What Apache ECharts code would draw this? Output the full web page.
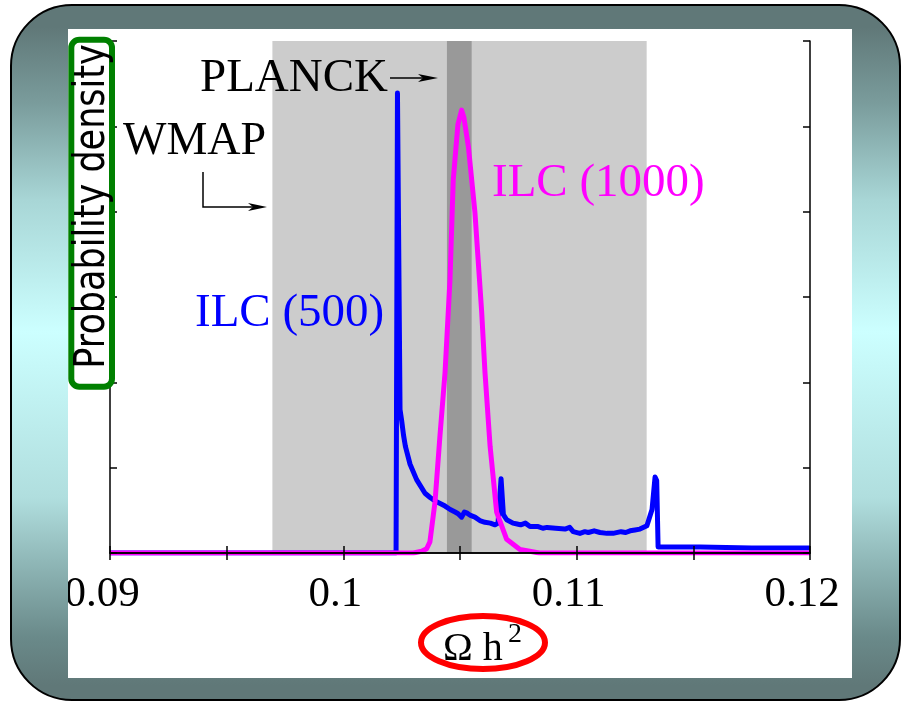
<!DOCTYPE html>
<html>
<head>
<meta charset="utf-8">
<script src="https://cdn.jsdelivr.net/npm/echarts@6/dist/echarts.min.js"></script>
<style>
  body { margin: 0; background: #fff; }
  #frame {
    position: absolute; left: 10px; top: 4px; width: 891px; height: 697px;
    box-sizing: border-box; border: 2px solid #000; border-radius: 62px;
    background: linear-gradient(to bottom, #607878 3%, #7a9c9c 14%, #a8d6d6 28%, #ccffff 47%, #b0dede 71%, #90b8b8 80%, #6a8a8a 91%, #607878 98%);
  }
  #main { position: absolute; left: 68px; top: 29px; width: 784px; height: 649px; background: #fff; }
</style>
</head>
<body>
<div id="frame"></div>
<div id="main"></div>
<script>
// x 轴范围和刻度
var xMin = 0.09;
var xMax = 0.12;
var xStep = 0.005;

// 阴影带 (WMAP / PLANCK)
var wmapBand = [0.09696, 0.1130];
var planckBand = [0.10444, 0.10550];

// ILC (500) 曲线
var ilc500X = [0.09, 0.10226, 0.10232, 0.10236, 0.10243, 0.10250, 0.10258, 0.10266, 0.10286, 0.10314,
  0.10350, 0.10372, 0.10393, 0.10415, 0.10436, 0.10458, 0.10479, 0.10492, 0.10507, 0.10519,
  0.10529, 0.10545, 0.10564, 0.10585, 0.10607, 0.10630, 0.10650, 0.10663, 0.10676, 0.10686,
  0.10700, 0.10727, 0.10745, 0.10760, 0.10780, 0.10800, 0.10835, 0.10855, 0.10873, 0.10910,
  0.10950, 0.10970, 0.10985, 0.11014, 0.11035, 0.11050, 0.11075, 0.11100, 0.11130, 0.11156,
  0.11190, 0.11210, 0.11229, 0.11250, 0.11271, 0.11301, 0.11323, 0.11336, 0.11343, 0.11349,
  0.11529, 0.1175, 0.12];
var ilc500Y = [0, 0, 5.39, 5.39, 1.68, 1.55, 1.38, 1.25, 1.04, 0.86,
  0.70, 0.65, 0.61, 0.58, 0.55, 0.51, 0.48, 0.46, 0.42, 0.48,
  0.47, 0.44, 0.42, 0.38, 0.36, 0.35, 0.33, 0.35, 0.87, 0.45,
  0.39, 0.35, 0.34, 0.33, 0.35, 0.31, 0.31, 0.29, 0.30, 0.29,
  0.28, 0.30, 0.25, 0.23, 0.25, 0.24, 0.26, 0.24, 0.23, 0.23,
  0.25, 0.24, 0.26, 0.27, 0.28, 0.32, 0.51, 0.89, 0.85, 0.07,
  0.07, 0.06, 0.06];

// ILC (1000) 曲线
var ilc1000X = [0.09, 0.1030, 0.10336, 0.10357, 0.10371, 0.10393, 0.10414, 0.10436, 0.10457, 0.10471,
  0.10491, 0.10507, 0.10517, 0.10536, 0.10564, 0.10593, 0.10607, 0.10629, 0.10657, 0.10700,
  0.10757, 0.1084, 0.12];
var ilc1000Y = [0, 0, 0.02, 0.05, 0.13, 0.60, 1.37, 2.12, 3.20, 4.37,
  5.02, 5.19, 5.10, 4.76, 3.99, 2.82, 2.12, 1.25, 0.48, 0.16,
  0.04, 0, 0];

var serif = '"Liberation Serif", "Times New Roman", serif';

function pairs (xs, ys) {
  var out = [];
  for (var i = 0; i < xs.length; i++) out.push([xs[i], ys[i]]);
  return out;
}

function tickLabel (v) {
  var k = Math.round(v * 1000);
  return k % 10 === 0 ? String(k / 1000) : '';
}

function axis (extra) {
  return Object.assign({
    type: 'value',
    z: 5,
    axisLine: { show: true, lineStyle: { color: '#000', width: 1.5 } },
    axisTick: { show: true, inside: true, length: 7, lineStyle: { color: '#000', width: 1.5 } },
    splitLine: { show: false },
    axisLabel: { show: false }
  }, extra);
}

var myChart = echarts.init(document.getElementById('main'));
var option = {
  animation: false,
  grid: { left: 42, right: 42, top: 12, bottom: 125, containLabel: false, outerBoundsMode: 'none' },
  xAxis: [
    axis({
      position: 'bottom', min: xMin, max: xMax, interval: xStep,
      axisLabel: { show: true, margin: 20, color: '#000', fontFamily: serif, fontSize: 43, padding: [0, 16, 0, 0], formatter: tickLabel }
    }),
    axis({ position: 'top', min: xMin, max: xMax, interval: xStep })
  ],
  yAxis: [
    axis({ position: 'left', min: 0, max: 6, interval: 1 }),
    axis({ position: 'right', min: 0, max: 6, interval: 1 })
  ],
  series: [
    {
      name: 'bands', type: 'line', data: [], z: 1, silent: true,
      markArea: {
        silent: true,
        data: [
          [{ xAxis: wmapBand[0], itemStyle: { color: '#cccccc' } }, { xAxis: wmapBand[1] }],
          [{ xAxis: planckBand[0], itemStyle: { color: '#999999' } }, { xAxis: planckBand[1] }]
        ]
      }
    },
    {
      name: 'ILC (500)', type: 'line', z: 3, showSymbol: false,
      lineStyle: { color: '#0000ff', width: 5, join: 'round' }, itemStyle: { color: '#0000ff' },
      data: pairs(ilc500X, ilc500Y)
    },
    {
      name: 'ILC (1000)', type: 'line', z: 4, showSymbol: false,
      lineStyle: { color: '#ff00ff', width: 5, join: 'round' }, itemStyle: { color: '#ff00ff' },
      data: pairs(ilc1000X, ilc1000Y)
    }
  ],
  graphic: [
    // 文字标注
    { type: 'text', x: 132, y: 49.5, z: 10, style: { text: 'PLANCK', font: '47px ' + serif, fill: '#000', textAlign: 'left', textVerticalAlign: 'middle' } },
    { type: 'text', x: 55, y: 112.5, z: 10, style: { text: 'WMAP', font: '46px ' + serif, fill: '#000', textAlign: 'left', textVerticalAlign: 'middle' } },
    { type: 'text', x: 127, y: 284.5, z: 10, style: { text: 'ILC (500)', font: '47px ' + serif, fill: '#0000ff', textAlign: 'left', textVerticalAlign: 'middle' } },
    { type: 'text', x: 424, y: 154.5, z: 10, style: { text: 'ILC (1000)', font: '47px ' + serif, fill: '#ff00ff', textAlign: 'left', textVerticalAlign: 'middle' } },
    // 箭头
    { type: 'polyline', z: 10, shape: { points: [[322, 49], [358, 49]] }, style: { stroke: '#000', lineWidth: 1.5 } },
    { type: 'polygon', z: 10, shape: { points: [[370, 49], [350, 45], [355, 49], [350, 53]] }, style: { fill: '#000' } },
    { type: 'polyline', z: 10, shape: { points: [[135, 143], [135, 178], [188, 178]] }, style: { stroke: '#000', lineWidth: 1.5, fill: null } },
    { type: 'polygon', z: 10, shape: { points: [[199, 178], [180, 174], [185, 178], [180, 182]] }, style: { fill: '#000' } },
    // y 轴标题
    { type: 'rect', z: 11, shape: { x: 3.3, y: 10.7, width: 40.7, height: 347, r: 8 }, style: { fill: '#fff', stroke: '#008000', lineWidth: 6 } },
    { type: 'text', z: 12, x: 25, y: 177.5, rotation: Math.PI / 2, scaleY: 1.2, style: { text: 'Probability density', font: '35px "DejaVu Sans", sans-serif', fill: '#000', textAlign: 'center', textVerticalAlign: 'middle' } },
    // x 轴标题
    { type: 'text', z: 12, x: 375, y: 620.5, style: { text: 'Ω h', font: '40px ' + serif, fill: '#000', textAlign: 'left', textVerticalAlign: 'middle' } },
    { type: 'text', z: 12, x: 440, y: 606, style: { text: '2', font: '28px ' + serif, fill: '#000', textAlign: 'left', textVerticalAlign: 'middle' } },
    { type: 'ellipse', z: 12, shape: { cx: 415, cy: 613.5, rx: 62, ry: 26.5 }, style: { fill: 'none', stroke: '#ff0000', lineWidth: 6 } }
  ]
};
myChart.setOption(option);
</script>
</body>
</html>
